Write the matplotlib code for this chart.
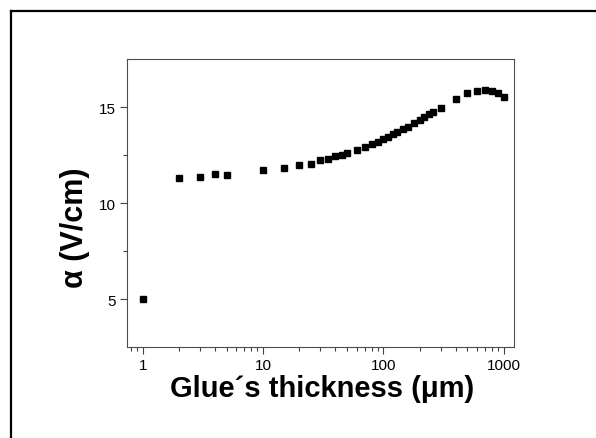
import matplotlib
matplotlib.use("Agg")
import matplotlib.pyplot as plt
from matplotlib.lines import Line2D
from matplotlib.ticker import FixedLocator, NullFormatter
import numpy as np

# glue thickness (um) and alpha (V/cm)
thickness = [1, 2, 3, 4, 5, 10, 15, 20, 25, 30, 35, 40, 45, 50, 60, 70, 80, 90,
             100, 110, 120, 130, 145, 160, 180, 200, 220, 240, 260, 300,
             400, 500, 600, 700, 800, 900, 1000]
alpha = [5.0, 11.29, 11.37, 11.51, 11.46, 11.70, 11.82, 11.96, 12.06, 12.22,
         12.32, 12.43, 12.53, 12.60, 12.77, 12.91, 13.07, 13.20, 13.32,
         13.46, 13.58, 13.72, 13.84, 13.96, 14.15, 14.33, 14.48, 14.62, 14.74,
         14.97, 15.40, 15.71, 15.85, 15.88, 15.83, 15.71, 15.52]

x_ticks = [1, 10, 100, 1000]
x_ticklabels = ["1", "10", "100", "1000"]
y_ticks = [5, 10, 15]
y_minor = [7.5, 12.5]

plt.rcParams['font.family'] = ['Liberation Sans', 'DejaVu Sans']

fig = plt.figure(figsize=(5.96, 4.39), dpi=100)
ax = fig.add_axes([0.2136, 0.2066, 0.6493, 0.6567])

ax.plot(thickness, alpha, linestyle='none', marker='s', markersize=5,
        color='black')

ax.set_xscale('log')
ax.set_xlim(0.745, 1227)
ax.set_ylim(2.5, 17.5)

ax.set_xticks(x_ticks)
ax.set_xticklabels(x_ticklabels)
ax.xaxis.set_minor_formatter(NullFormatter())
ax.set_yticks(y_ticks)
ax.yaxis.set_minor_locator(FixedLocator(y_minor))

ax.tick_params(which='major', direction='out', length=5, width=0.8,
               labelsize=11, color='0.25', pad=3)
ax.tick_params(which='minor', direction='out', length=3, width=0.8,
               color='0.25')
for sp in ax.spines.values():
    sp.set_linewidth(0.8)
    sp.set_color('0.3')

fig.text(322 / 596, 1 - 389 / 439, "Glue\u00b4s thickness (\u03bcm)",
         fontsize=21, fontweight='bold', ha='center', va='center')
fig.text(75 / 596, 1 - 228 / 439, "\u03b1 (V/cm)", fontsize=22,
         fontweight='bold', ha='center', va='center', rotation=90)

# outer frame, cut by the image edges on the right and bottom
fig.add_artist(Line2D([11 / 596, 11 / 596], [1 - 12 / 439, -0.05],
                      transform=fig.transFigure, color='black', linewidth=1.6))
fig.add_artist(Line2D([11 / 596, 1.05], [1 - 12 / 439, 1 - 12 / 439],
                      transform=fig.transFigure, color='black', linewidth=1.6))

fig.savefig("out.png", dpi=100)
